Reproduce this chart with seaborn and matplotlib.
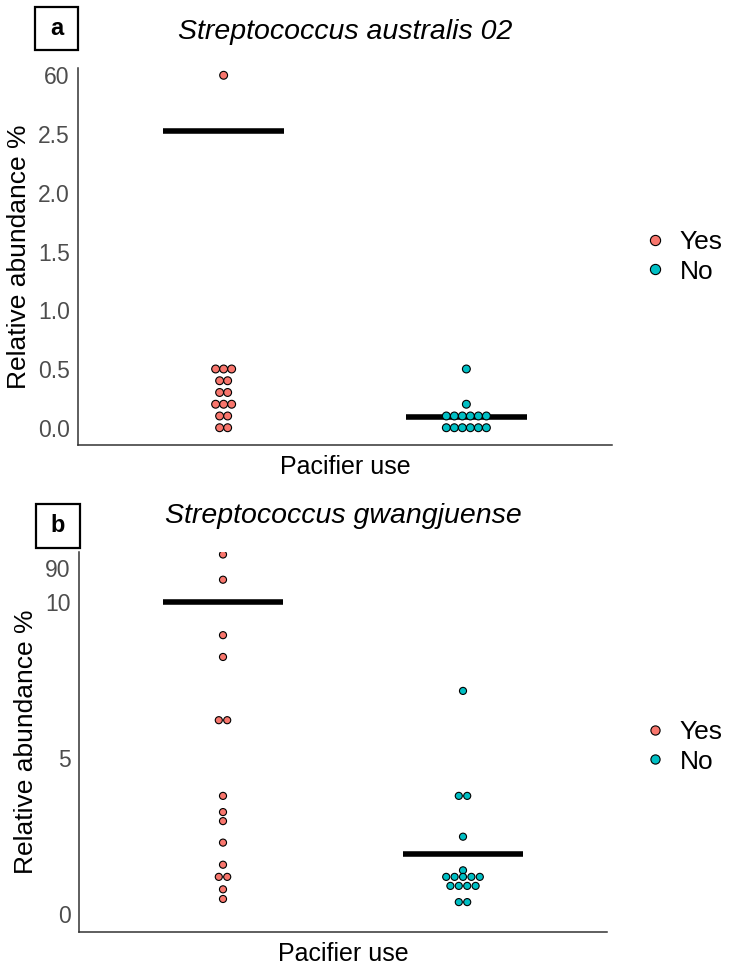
import matplotlib
matplotlib.use("Agg")
import matplotlib.pyplot as plt
import matplotlib.patches as mpatches
import pandas as pd
import seaborn as sns

GROUPS = ["Yes", "No"]
COLORS = {"Yes": "#F8766D", "No": "#00BFC4"}

# panel a: values in axis units (axis is broken above 2.5, top tick stands for 60)
A_TITLE = "Streptococcus australis 02"
A_YES = [3.0, 0.5, 0.5, 0.5, 0.4, 0.4, 0.3, 0.3, 0.2, 0.2, 0.2, 0.1, 0.1, 0.0, 0.0]
A_NO = [0.5, 0.2, 0.1, 0.1, 0.1, 0.1, 0.1, 0.1, 0.0, 0.0, 0.0, 0.0, 0.0, 0.0]
A_MEANS = [2.53, 0.09]
A_TICKS = [0.0, 0.5, 1.0, 1.5, 2.0, 2.5, 3.0]
A_TICKLABELS = ["0.0", "0.5", "1.0", "1.5", "2.0", "2.5", "60"]

# panel b: axis broken above 10, top tick stands for 90
B_TITLE = "Streptococcus gwangjuense"
B_YES = [11.53, 10.72, 8.94, 8.24, 6.21, 6.21, 3.78, 3.26, 2.97, 2.28, 1.57, 1.18, 1.18, 0.78, 0.47]
B_NO = [7.15, 3.78, 3.78, 2.47, 1.39, 1.18, 1.18, 1.18, 1.18, 1.18, 0.89, 0.89, 0.89, 0.89, 0.37, 0.37]
B_MEANS = [10.0, 1.90]
B_TICKS = [0, 5, 10, 11.1]
B_TICKLABELS = ["0", "5", "10", "90"]

W, H = 733, 968


def stack_dots(values, group, pos, step):
    """Centre dots that share a value side by side, like a dotplot."""
    df = pd.DataFrame({"value": values, "group": group})
    n = df.groupby("value")["value"].transform("size")
    i = df.groupby("value").cumcount()
    df["x"] = pos + (i - (n - 1) / 2) * step
    return df


def draw_panel(fig, rect, letter, box_px, title, yes, no, means, ticks, ticklabels,
               ylim, step, size, legend_y):
    ax = fig.add_axes(rect)
    data = pd.concat([stack_dots(yes, "Yes", 0, step), stack_dots(no, "No", 1, step)])
    sns.scatterplot(data=data, x="x", y="value", hue="group", hue_order=GROUPS,
                    palette=COLORS, s=size, edgecolor="black", linewidth=0.8,
                    ax=ax, zorder=3)
    ax.hlines(means, [p - 0.25 for p in range(2)], [p + 0.25 for p in range(2)],
              color="black", linewidth=4, zorder=2)

    ax.set_xlim(-0.6, 1.6)
    ax.set_ylim(*ylim)
    ax.set_xticks([0, 1])
    ax.set_xticklabels(["", ""])
    ax.set_yticks(ticks)
    ax.set_yticklabels(ticklabels)
    ax.tick_params(axis="both", length=4, width=1, color="#333333",
                   labelsize=16.5, labelcolor="#4D4D4D", pad=2)
    for side in ["top", "right"]:
        ax.spines[side].set_visible(False)
    for side in ["left", "bottom"]:
        ax.spines[side].set_color("#333333")
        ax.spines[side].set_linewidth(1.1)
    ax.set_xlabel("Pacifier use", fontsize=18, labelpad=1, color="black")
    ax.set_ylabel("Relative abundance %", fontsize=19, labelpad=5, color="black")

    xc = rect[0] + rect[2] / 2
    fig.text(xc, rect[1] + rect[3] + 36 / H, title, fontsize=20.5, style="italic",
             ha="center", va="center", color="black")

    bx, by, bs = box_px
    fig.patches.append(mpatches.Rectangle((bx / W, 1 - (by + bs) / H), bs / W, bs / H,
                                          transform=fig.transFigure, fill=False,
                                          edgecolor="black", linewidth=1.6))
    fig.text((bx + bs / 2) / W, 1 - (by + bs / 2) / H, letter, fontsize=17,
             fontweight="bold", ha="center", va="center", color="black")

    leg = ax.legend(loc="center left", bbox_to_anchor=(0.879, legend_y),
                    bbox_transform=fig.transFigure, frameon=False, fontsize=19,
                    handlelength=0.8, handletextpad=0.55, labelspacing=0.2,
                    borderpad=0, borderaxespad=0, markerscale=1.3)
    for t in leg.get_texts():
        t.set_color("black")
    return ax


sns.set_theme(style="white")
plt.rcParams["font.family"] = ["Liberation Sans", "DejaVu Sans"]
plt.rcParams["text.color"] = "black"

fig = plt.figure(figsize=(W / 100, H / 100), dpi=100)
fig.patch.set_facecolor("white")

draw_panel(fig, [78 / W, 1 - 445 / H, (612 - 78) / W, (445 - 68) / H], "a", (35, 7, 43),
           A_TITLE, A_YES, A_NO, A_MEANS, A_TICKS, A_TICKLABELS,
           (-0.147, 3.062), 0.033, 32, 1 - 257 / H)
draw_panel(fig, [79 / W, 1 - 932 / H, (607 - 79) / W, (932 - 552) / H], "b", (36, 504, 44),
           B_TITLE, B_YES, B_NO, B_MEANS, B_TICKS, B_TICKLABELS,
           (-0.59, 11.61), 0.035, 26, 1 - 747 / H)

fig.savefig("out.png", dpi=100, facecolor="white")
